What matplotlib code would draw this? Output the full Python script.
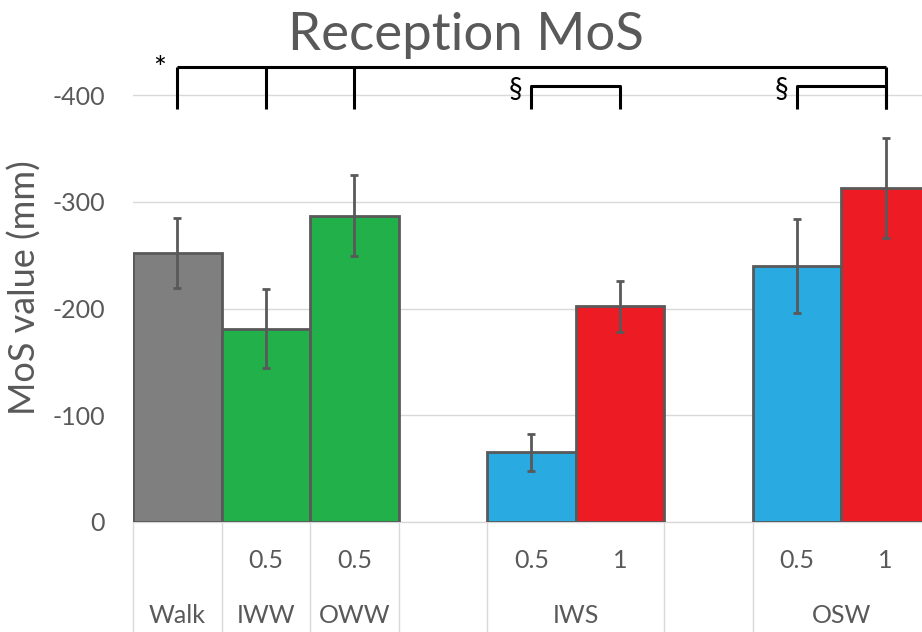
import matplotlib.pyplot as plt
from matplotlib.transforms import blended_transform_factory

plt.rcParams['font.family'] = ['Lato', 'DejaVu Sans']
plt.rcParams['axes.unicode_minus'] = False

# Reception MoS values (mm)
sub_labels = ['', '0.5', '0.5', '0.5', '1', '0.5', '1']
mos = [-252, -181, -287, -65, -202, -240, -313]
sd = [33, 37, 38, 17, 24, 44, 47]
colors = ['#7f7f7f', '#22b04b', '#22b04b', '#29abe2', '#ed1c24', '#29abe2', '#ed1c24']

group_labels = ['Walk', 'IWW', 'OWW', 'IWS', 'OSW']
group_centers = [0, 1, 2, 4.5, 7.5]
separators = [-0.5, 0.5, 1.5, 2.5, 3.5, 5.5, 6.5]

# bar slots, with an empty slot between the groups
x = [0, 1, 2, 4, 5, 7, 8]

text_col = '#595959'
grid_col = '#d9d9d9'

fig = plt.figure(figsize=(9.22, 6.32), dpi=100)
ax = fig.add_axes([133 / 922, 0.1745, 789 / 922, 0.742])

ax.bar(x, mos, width=1.0, color=colors, edgecolor=text_col, linewidth=2, zorder=3)
ax.errorbar(x, mos, yerr=sd, fmt='none', ecolor=text_col, elinewidth=2,
            capsize=3, capthick=2, zorder=4)

ax.set_xlim(-0.5, 8.41)
ax.set_ylim(0, -440)
ax.set_yticks([0, -100, -200, -300, -400])
ax.yaxis.grid(True, color=grid_col, linewidth=1)
ax.set_axisbelow(True)
ax.tick_params(axis='y', length=0, pad=20, labelsize=18, labelcolor=text_col)
ax.set_xticks([])
for s in ['top', 'right', 'left']:
    ax.spines[s].set_visible(False)
ax.spines['bottom'].set_color(grid_col)
ax.spines['bottom'].set_linewidth(1)

ax.set_ylabel('MoS value (mm)', fontsize=26, color=text_col, labelpad=8)
fig.text(0.505, 1 - 50 / 632, 'Reception MoS', fontsize=38, color=text_col,
         ha='center', va='baseline')

# category table under the axis
trans = blended_transform_factory(ax.transData, ax.transAxes)
for s in separators:
    ax.plot([s, s], [0, -0.24], color=grid_col, linewidth=1, transform=trans,
            clip_on=False)
for xi, lab in zip(x, sub_labels):
    ax.text(xi, -0.083, lab, transform=trans, ha='center', va='center',
            fontsize=18, color=text_col)
for xc, lab in zip(group_centers, group_labels):
    ax.text(xc, -0.2, lab, transform=trans, ha='center', va='center',
            fontsize=18, color=text_col)

# significance brackets
blk = dict(color='black', linewidth=2.2, clip_on=False, solid_capstyle='butt')
top, low, mid = -427, -387, -409
ax.plot([0, 8], [top, top], **blk)
for xi in [0, 1, 2, 8]:
    ax.plot([xi, xi], [top, low], **blk)
ax.text(-0.2, top + 2, '*', ha='center', va='center', fontsize=22)
for a, b in [(4, 5), (7, 8)]:
    ax.plot([a, a, b, b], [low, mid, mid, low], **blk)
    ax.text(a - 0.18, mid + 4, '§', ha='center', va='center', fontsize=20)

fig.savefig('out.png', dpi=100)
